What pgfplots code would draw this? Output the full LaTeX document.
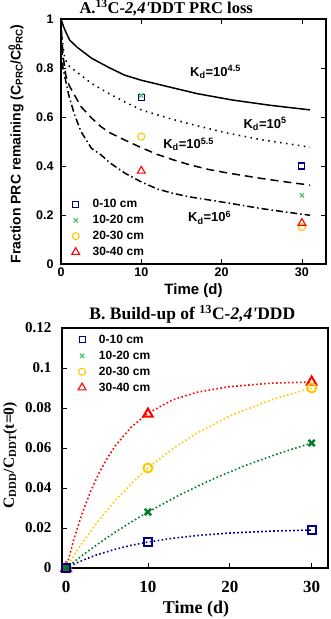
\documentclass[border=0pt]{standalone}
\usepackage{fontspec}
\setmainfont{Liberation Sans}
\newfontfamily\serifb{Liberation Serif}
\usepackage{pgfplots}
\pgfplotsset{compat=1.18}
\definecolor{cnavy}{RGB}{0,0,140}
\definecolor{clgreen}{RGB}{70,195,95}
\definecolor{cdgreen}{RGB}{0,125,40}
\definecolor{cgold}{RGB}{255,200,0}
\definecolor{cred}{RGB}{255,0,0}
\newcommand\sfb[1]{\fontsize{#1}{#1}\selectfont\bfseries}
\newcommand\rmb[1]{\serifb\fontsize{#1}{#1}\selectfont\bfseries}
\newcommand\legtxt[1]{\hspace*{11pt}#1}
\pgfplotsset{every axis title shift=0pt}
\begin{document}
\begin{tikzpicture}
\useasboundingbox (0,0) rectangle (331pt,619pt);
% ---------------- Panel A ----------------
\begin{axis}[
  at={(61pt,355pt)}, anchor=south west,
  scale only axis, width=265pt, height=245pt,
  xmin=0, xmax=33, ymin=0, ymax=1,
  xtick={0,10,20,30}, ytick={0,0.2,0.4,0.6,0.8,1},
  tick align=inside, major tick length=5pt,
  axis line style={line width=1.3pt},
  every tick/.style={black, line width=0.8pt},
  /pgf/number format/assume math mode=true,
  ticklabel style={font=\sfb{12.5}},
  yticklabel style={xshift=-4pt},
  xlabel={Time (d)},
  xlabel style={font=\sfb{15}, at={(axis description cs:0.5,0)}, anchor=base, yshift=-31pt},
  ylabel={Fraction PRC remaining (C\textsubscript{PRC}/C\rlap{\textsuperscript{0}}\textsubscript{PRC})},
  ylabel style={font=\sfb{14}, at={(axis description cs:-0.17,0.49)}, anchor=center},
  title={A.\textsuperscript{13}C-\textit{2,4'}DDT PRC loss},
  title style={font=\rmb{16.5}, at={(axis description cs:0.397,1)}, anchor=base, yshift=5pt},
  legend style={draw=none, fill=none, font=\sfb{12}, at={(axis description cs:0.04,0.272)}, anchor=north west, inner sep=0pt, row sep=2pt},
  legend cell align=left,
]
\addplot[black, line width=1.5pt, forget plot] coordinates {
(0,1)(0.3,0.97)(0.7,0.94)(1.08,0.914)(2,0.885)(3.8,0.84)(5.9,0.803)(7.9,0.771)(10,0.75)(13.3,0.724)(17,0.695)(21.4,0.669)(26,0.648)(31,0.629)};
\addplot[black, line width=1.5pt, dash pattern=on 1.5pt off 4.5pt, forget plot] coordinates {
(0,1)(0.1,0.94)(0.25,0.89)(0.46,0.84)(0.87,0.812)(2.1,0.78)(3.8,0.737)(5.9,0.697)(7.9,0.662)(10,0.629)(13.3,0.596)(16,0.572)(20.6,0.535)(25,0.507)(28,0.492)(31,0.477)};
\addplot[black, line width=1.5pt, dash pattern=on 8pt off 5pt, forget plot] coordinates {
(0,1)(0.1,0.92)(0.3,0.84)(0.6,0.77)(1,0.73)(1.5,0.70)(2.5,0.642)(3.8,0.596)(5,0.56)(6,0.537)(8,0.505)(10,0.475)(12,0.447)(14,0.425)(16,0.405)(18.5,0.385)(21,0.37)(24.8,0.35)(28,0.335)(31,0.322)};
\addplot[black, line width=1.5pt, dash pattern=on 7pt off 3pt on 1.5pt off 3pt, forget plot] coordinates {
(0,1)(0.1,0.88)(0.25,0.8)(0.5,0.76)(1,0.685)(1.7,0.608)(2.5,0.54)(3.8,0.472)(5,0.445)(6,0.415)(8,0.37)(10,0.335)(12,0.306)(14,0.288)(16,0.274)(18.5,0.261)(21,0.248)(24.8,0.227)(28,0.212)(31,0.199)};
\node[font=\sfb{13}, anchor=base west] at (axis cs:15.65,0.767) {K\textsubscript{d}=10\textsuperscript{4.5}};
\node[font=\sfb{13}, anchor=base west] at (axis cs:22.3,0.554) {K\textsubscript{d}=10\textsuperscript{5}};
\node[font=\sfb{13}, anchor=base west] at (axis cs:12.3,0.472) {K\textsubscript{d}=10\textsuperscript{5.5}};
\node[font=\sfb{13}, anchor=base west] at (axis cs:15.4,0.173) {K\textsubscript{d}=10\textsuperscript{6}};
\addplot[only marks, mark=square, cnavy, mark size=3pt, line width=1.1pt] coordinates {(10,0.68)(30,0.40)};
\addlegendentry{\legtxt{0-10 cm}}
\addplot[only marks, mark=x, clgreen, mark size=3pt, line width=1.1pt] coordinates {(10,0.688)(30,0.28)};
\addlegendentry{\legtxt{10-20 cm}}
\addplot[only marks, mark=o, cgold, mark size=3.5pt, line width=1.1pt] coordinates {(10,0.52)(30,0.151)};
\addlegendentry{\legtxt{20-30 cm}}
\addplot[only marks, mark=triangle, cred, mark size=4.5pt, line width=1.1pt] coordinates {(10,0.38)(30,0.167)};
\addlegendentry{\legtxt{30-40 cm}}
\end{axis}
% ---------------- Panel B ----------------
\begin{axis}[
  at={(62pt,51pt)}, anchor=south west,
  scale only axis, width=266pt, height=240pt,
  xmin=-0.5, xmax=32, ymin=0, ymax=0.12,
  xtick={0,10,20,30}, ytick={0,0.02,0.04,0.06,0.08,0.1,0.12},
  xtick pos=left, ytick pos=left,
  scaled y ticks=false,
  tick align=inside, major tick length=5pt,
  axis line style={line width=1.6pt},
  every tick/.style={black, line width=0.8pt},
  /pgf/number format/.cd, assume math mode=true, fixed, precision=2, /pgfplots/.cd,
  xticklabel style={font=\rmb{17}, yshift=-10pt},
  yticklabel style={font=\rmb{15}, xshift=-7pt},
  xlabel={Time (d)},
  xlabel style={font=\rmb{18}, at={(axis description cs:0.504,0)}, anchor=base, yshift=-45pt},
  ylabel={C\textsubscript{DDD}/C\textsubscript{DDT}(t=0)},
  ylabel style={font=\rmb{15.5}, at={(axis description cs:-0.195,0.47)}, anchor=center},
  title={B. Build-up of \textsuperscript{13}C-\textit{2,4'}DDD},
  title style={font=\rmb{17.5}, at={(axis description cs:0.49,1)}, anchor=base, yshift=8pt},
  legend style={draw=none, fill=none, font=\sfb{12}, at={(axis description cs:0.06,0.98)}, anchor=north west, inner sep=0pt, row sep=2pt},
  legend cell align=left,
]
\addlegendimage{only marks, mark=square, cnavy, mark size=3pt, line width=1.1pt}
\addlegendentry{\legtxt{0-10 cm}}
\addlegendimage{only marks, mark=x, clgreen, mark size=3pt, line width=1.1pt}
\addlegendentry{\legtxt{10-20 cm}}
\addlegendimage{only marks, mark=o, cgold, mark size=3.5pt, line width=1.1pt}
\addlegendentry{\legtxt{20-30 cm}}
\addlegendimage{only marks, mark=triangle, cred, mark size=4.5pt, line width=1.1pt}
\addlegendentry{\legtxt{30-40 cm}}
% fitted curves
\addplot[cred, line width=1.6pt, dash pattern=on 1.6pt off 2.4pt, forget plot] coordinates {
(0,0)(1,0.0151)(2,0.0277)(3,0.0384)(4,0.0473)(5,0.0547)(6,0.0610)(8,0.0706)(10,0.0774)(13,0.0840)(16,0.0879)(20,0.0907)(25,0.0924)(30,0.093)};
\addplot[cgold, line width=1.6pt, dash pattern=on 1.6pt off 2.4pt, forget plot] coordinates {
(0,0)(1,0.00655)(2,0.01269)(4,0.02385)(6,0.03366)(8,0.04227)(10,0.05)(13,0.0595)(16,0.0675)(20,0.0760)(25,0.0840)(30,0.09)};
\addplot[cdgreen, line width=1.6pt, dash pattern=on 1.6pt off 2.4pt, forget plot] coordinates {
(0,0)(2,0.00637)(4,0.01233)(6,0.0179)(8,0.0231)(10,0.028)(14,0.0368)(18,0.0446)(22,0.0514)(26,0.0573)(30,0.0625)};
\addplot[cnavy, line width=1.6pt, dash pattern=on 1.6pt off 2.4pt, forget plot] coordinates {
(0,0)(1,0.00201)(2,0.00381)(3,0.00543)(4,0.00689)(6,0.00937)(8,0.01138)(10,0.013)(13,0.01487)(16,0.01622)(20,0.01747)(25,0.01844)(30,0.019)};
% data
\addplot[only marks, mark=triangle, cred, mark size=5.5pt, line width=2pt, forget plot] coordinates {(0,0)(10,0.077)(30,0.093)};
\addplot[only marks, mark=o, cgold, mark size=4.5pt, line width=2pt, forget plot] coordinates {(0,0)(10,0.05)(30,0.09)};
\addplot[only marks, mark=x, cdgreen, mark size=4.5pt, line width=2.5pt, forget plot] coordinates {(0,0)(10,0.028)(30,0.0625)};
\addplot[only marks, mark=square, cnavy, mark size=4pt, line width=2pt, forget plot] coordinates {(0,0)(10,0.013)(30,0.019)};
\end{axis}
\end{tikzpicture}
\end{document}
